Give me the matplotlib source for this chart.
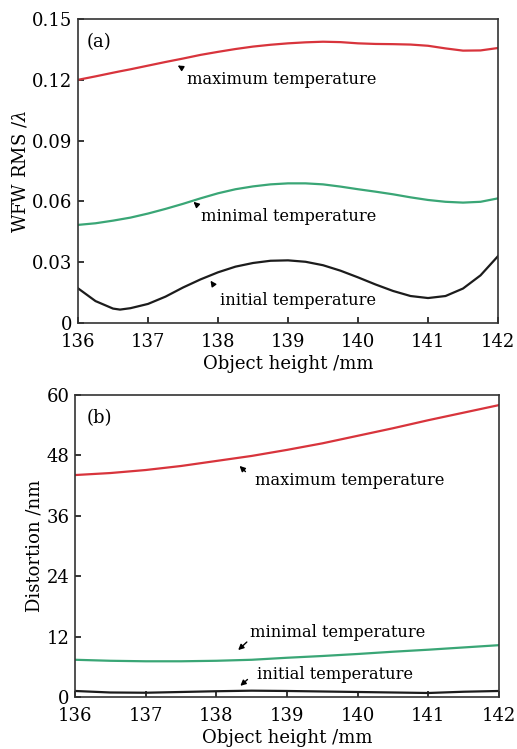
import matplotlib
matplotlib.use('Agg')
import matplotlib.pyplot as plt
import numpy as np

plt.rcParams['font.family'] = 'DejaVu Serif'
plt.rcParams['mathtext.fontset'] = 'dejavuserif'

# (a) WFW RMS
x_a = [136.0, 136.25, 136.5, 136.6, 136.75, 137.0, 137.25, 137.5, 137.75, 138.0, 138.25,
       138.5, 138.75, 139.0, 139.25, 139.5, 139.75, 140.0, 140.25, 140.5, 140.75,
       141.0, 141.25, 141.5, 141.75, 142.0]
max_a = [0.1200, 0.1217, 0.1235, 0.1242, 0.1252, 0.1270, 0.1288, 0.1305, 0.1323, 0.1338, 0.1352,
         0.1364, 0.1373, 0.1380, 0.1385, 0.1388, 0.1386, 0.1380, 0.1377, 0.1376, 0.1374,
         0.1368, 0.1355, 0.1344, 0.1345, 0.1357]
min_a = [0.0484, 0.0492, 0.0505, 0.0511, 0.0520, 0.0540, 0.0563, 0.0588, 0.0615, 0.0640, 0.0660,
         0.0674, 0.0684, 0.0689, 0.0689, 0.0684, 0.0673, 0.0660, 0.0648, 0.0635, 0.0620,
         0.0607, 0.0598, 0.0594, 0.0598, 0.0615]
init_a = [0.0171, 0.0108, 0.0071, 0.0066, 0.0073, 0.0094, 0.0130, 0.0175, 0.0215, 0.0250, 0.0278,
          0.0296, 0.0307, 0.0309, 0.0302, 0.0285, 0.0258, 0.0225, 0.0190, 0.0158, 0.0133,
          0.0123, 0.0133, 0.0170, 0.0235, 0.0330]

# (b) distortion
x_b = [136.0, 136.5, 137.0, 137.5, 138.0, 138.5, 139.0, 139.5, 140.0, 140.5,
       141.0, 141.5, 142.0]
max_b = [44.1, 44.5, 45.1, 45.9, 46.9, 47.9, 49.1, 50.4, 51.9, 53.4, 55.0, 56.5, 58.0]
min_b = [7.4, 7.2, 7.1, 7.1, 7.2, 7.4, 7.8, 8.15, 8.55, 9.0, 9.4, 9.85, 10.3]
init_b = [1.2, 0.9, 0.85, 1.0, 1.15, 1.26, 1.2, 1.1, 1.0, 0.9, 0.8, 1.05, 1.2]

x_ticks = [136, 137, 138, 139, 140, 141, 142]
a_yticks = [0, 0.03, 0.06, 0.09, 0.12, 0.15]
a_ylabels = ['0', '0.03', '0.06', '0.09', '0.12', '0.15']
b_yticks = [0, 12, 24, 36, 48, 60]

red = '#d8343c'
green = '#3aa676'
black = '#1c1c1c'

fig = plt.figure(figsize=(5.17, 7.49), dpi=100)
ax1 = fig.add_axes([0.1509, 0.5688, 0.8124, 0.4058])
ax2 = fig.add_axes([0.1451, 0.0694, 0.8201, 0.4032])

fs = 13

def style(ax):
    for s in ax.spines.values():
        s.set_linewidth(1.2)
        s.set_color('#333333')
    ax.tick_params(direction='in', length=4, width=1.1, labelsize=fs,
                   top=False, right=False)
    ax.tick_params(axis='x', pad=7)
    ax.tick_params(axis='y', pad=4)
    ax.set_xlim(136, 142)
    ax.set_xticks(x_ticks)
    ax.set_xlabel('Object height /mm', fontsize=fs, labelpad=3)

# panel (a)
ax1.plot(x_a, max_a, color=red, lw=1.6)
ax1.plot(x_a, min_a, color=green, lw=1.6)
ax1.plot(x_a, init_a, color=black, lw=1.6)
style(ax1)
ax1.set_ylim(0, 0.15)
ax1.set_yticks(a_yticks)
ax1.set_yticklabels(a_ylabels)
ax1.set_ylabel('WFW RMS /$\\lambda$', fontsize=fs, labelpad=2)
ax1.text(136.13, 0.1388, '(a)', fontsize=fs, va='center')

arr = dict(arrowstyle='-|>', color='black', lw=1.0, mutation_scale=8)
tsize = 11.7
ax1.annotate('', xy=(137.39, 0.1278), xytext=(137.51, 0.1253), arrowprops=arr)
ax1.text(137.56, 0.1204, 'maximum temperature', fontsize=tsize, va='center')
ax1.annotate('', xy=(137.62, 0.0607), xytext=(137.71, 0.0579), arrowprops=arr)
ax1.text(137.75, 0.0523, 'minimal temperature', fontsize=tsize, va='center')
ax1.annotate('', xy=(137.87, 0.0220), xytext=(137.96, 0.0176), arrowprops=arr)
ax1.text(138.03, 0.0109, 'initial temperature', fontsize=tsize, va='center')

# panel (b)
ax2.plot(x_b, max_b, color=red, lw=1.6)
ax2.plot(x_b, min_b, color=green, lw=1.6)
ax2.plot(x_b, init_b, color=black, lw=1.6)
style(ax2)
ax2.set_ylim(0, 60)
ax2.set_yticks(b_yticks)
ax2.set_ylabel('Distortion /nm', fontsize=fs, labelpad=2)
ax2.text(136.16, 55.5, '(b)', fontsize=fs, va='center')

ax2.annotate('', xy=(138.30, 46.3), xytext=(138.44, 44.4), arrowprops=arr)
ax2.text(138.54, 43.1, 'maximum temperature', fontsize=tsize, va='center')
ax2.annotate('', xy=(138.28, 8.95), xytext=(138.46, 11.3), arrowprops=arr)
ax2.text(138.47, 12.8, 'minimal temperature', fontsize=tsize, va='center')
ax2.annotate('', xy=(138.31, 1.86), xytext=(138.47, 3.85), arrowprops=arr)
ax2.text(138.58, 4.44, 'initial temperature', fontsize=tsize, va='center')

fig.savefig('out.png', dpi=100)
